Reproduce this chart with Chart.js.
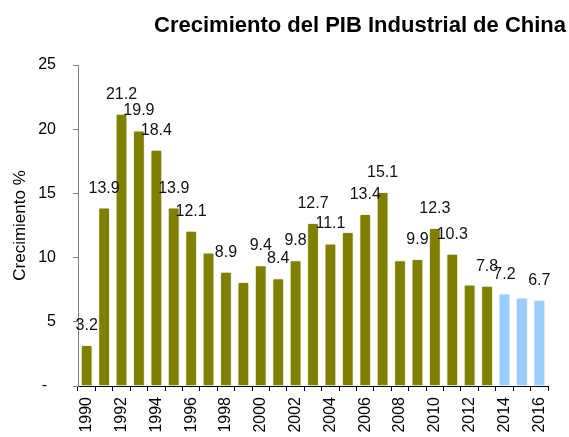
<!DOCTYPE html>
<html>
<head>
<meta charset="utf-8">
<script src="https://cdn.jsdelivr.net/npm/chart.js@4/dist/chart.umd.min.js"></script>
<style>
  body { margin: 0; background: #fff; }
  #wrap { width: 569px; height: 437px; }
</style>
</head>
<body>
<div id="wrap"><canvas id="pib"></canvas></div>
<script>
// crecimiento anual del PIB industrial, % (2014-2016 = proyección)
var years = ["1990", "1991", "1992", "1993", "1994", "1995", "1996", "1997", "1998", "1999",
             "2000", "2001", "2002", "2003", "2004", "2005", "2006", "2007", "2008", "2009",
             "2010", "2011", "2012", "2013", "2014", "2015", "2016"];
var growth = [3.2, 13.9, 21.2, 19.9, 18.4, 13.9, 12.1, 10.4, 8.9, 8.1,
              9.4, 8.4, 9.8, 12.7, 11.1, 12.0, 13.4, 15.1, 9.8, 9.9,
              12.3, 10.3, 7.9, 7.8, 7.2, 6.9, 6.7];
// which bars carry a value label
var labelled = [1, 1, 1, 1, 1, 1, 1, 0, 1, 0,
                1, 1, 1, 1, 1, 0, 1, 1, 0, 1,
                1, 1, 0, 1, 1, 0, 1];
var firstForecast = "2014";
var yTicks = [0, 5, 10, 15, 20, 25];

var OLIVE = "#808000";
var SKY = "#99ccff";
var FONT = "'Liberation Sans', Arial, sans-serif";

Chart.defaults.font.family = FONT;
Chart.defaults.color = "#000";

var barColors = years.map(function (y) {
    return y >= firstForecast ? SKY : OLIVE;
});

// value labels above the bars
var valueLabels = {
    id: "valueLabels",
    afterDatasetsDraw: function (chart) {
        var ctx = chart.ctx;
        var meta = chart.getDatasetMeta(0);
        ctx.save();
        ctx.font = "16px " + FONT;
        ctx.fillStyle = "#111";
        ctx.textAlign = "center";
        ctx.textBaseline = "alphabetic";
        meta.data.forEach(function (bar, i) {
            if (!labelled[i]) return;
            ctx.fillText(growth[i].toFixed(1), bar.x, bar.y - 15);
        });
        ctx.restore();
    }
};

// heading, right-aligned to the canvas edge
var heading = {
    id: "heading",
    afterDraw: function (chart) {
        var ctx = chart.ctx;
        ctx.save();
        ctx.font = "bold 22px " + FONT;
        ctx.fillStyle = "#000";
        ctx.textAlign = "right";
        ctx.textBaseline = "middle";
        ctx.fillText("Crecimiento del PIB Industrial de China", 566, 26);
        ctx.restore();
    }
};

new Chart(document.getElementById("pib"), {
    type: "bar",
    data: {
        labels: years,
        datasets: [{
            data: growth,
            backgroundColor: barColors,
            borderColor: "rgba(240, 240, 225, 0.9)",
            borderWidth: 1,
            borderRadius: 2,
            borderSkipped: "bottom",
            barPercentage: 0.68,
            categoryPercentage: 1
        }]
    },
    options: {
        responsive: true,
        maintainAspectRatio: false,
        animation: false,
        layout: {
            padding: { top: 65, right: 21, left: 0, bottom: 0 }
        },
        plugins: {
            legend: { display: false },
            tooltip: { enabled: false }
        },
        scales: {
            x: {
                afterFit: function (scale) { scale.height = 51; },
                border: { color: "#000", width: 1 },
                grid: {
                    offset: true,
                    drawOnChartArea: false,
                    color: "#000",
                    tickLength: 5
                },
                ticks: {
                    autoSkip: false,
                    maxRotation: 90,
                    minRotation: 90,
                    padding: 6,
                    font: { size: 16 },
                    callback: function (value, index) {
                        return index % 2 === 0 ? years[index] : "";
                    }
                }
            },
            y: {
                min: yTicks[0],
                max: yTicks[yTicks.length - 1],
                afterFit: function (scale) { scale.width = 78; },
                afterBuildTicks: function (scale) {
                    scale.ticks = yTicks.map(function (v) { return { value: v }; });
                },
                border: { color: "#808080", width: 1 },
                grid: {
                    drawOnChartArea: false,
                    color: "#808080",
                    tickLength: 5
                },
                ticks: {
                    padding: 17,
                    font: { size: 16 },
                    callback: function (value) {
                        return value === 0 ? "-  " : value;
                    }
                },
                title: {
                    display: true,
                    text: "Crecimiento %",
                    font: { size: 17 },
                    padding: { top: 10, bottom: 0 }
                }
            }
        }
    },
    plugins: [valueLabels, heading]
});
</script>
</body>
</html>
